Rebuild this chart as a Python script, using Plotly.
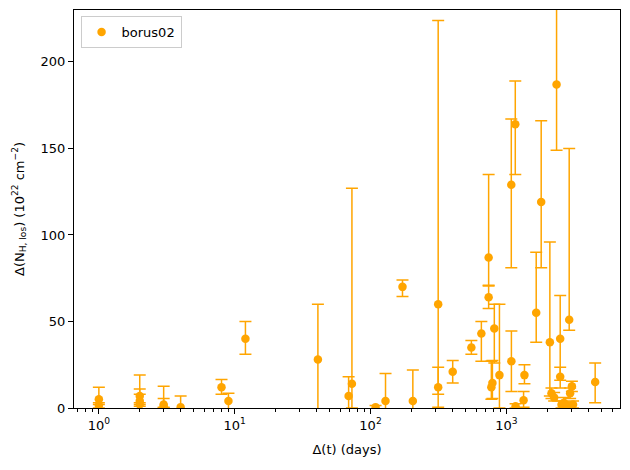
import plotly.graph_objects as go

# delta t (days), delta NH (1e22 cm^-2) with lower / upper errors
days = [1, 1, 2, 2, 2, 3, 3, 4, 8, 9, 12, 41, 69, 73, 109, 129, 172, 205, 315, 315,
        403, 553, 655, 741, 741, 776, 790, 816, 890, 1088, 1090, 1164, 1170, 1340, 1360,
        1660, 1806, 2092, 2150, 2250, 2344, 2493, 2493, 2550, 2650, 2800, 2904, 2950,
        3040, 3100, 4510]
delta_nh = [5, 1.5, 7, 4, 2, 2, 1, 0.5, 12, 4, 40, 28, 7, 14, 0.5, 4, 70, 4, 60, 12,
            21, 35, 43, 87, 64, 12, 14.5, 46, 19, 129, 27, 164, 1, 4.5, 19,
            55, 119, 38, 8.5, 6, 187, 40, 18, 2, 3, 1.5, 51, 8.5,
            12.5, 2, 15]
err_minus = [3, 1.5, 4, 2, 1, 1.5, 1, 1, 4, 4.5, 9, 32, 11, 14, 1, 16, 5.5, 18, 52, 11.5,
             6.5, 4, 16, 16, 6.5, 7, 9, 20, 19, 48, 17.5, 29, 1, 4, 5,
             17, 38, 31, 3, 2, 38, 24, 6.5, 2, 2, 1.5, 6, 3,
             3, 2, 12]
err_plus = [7, 1.5, 12, 7, 6, 10.5, 4.5, 6.5, 4.5, 4.5, 10, 32, 11, 113, 1, 16, 4, 18, 164, 11.5,
            6.5, 4, 7, 48, 6.5, 15, 13, 14, 41, 38, 17.5, 25, 1.5, 5, 6,
            35, 47, 58, 3, 3, 50, 25, 5.5, 2, 3, 2, 99, 3,
            3, 2, 11]

x_tickvals = [1, 10, 100, 1000]
x_ticktext = ["10<sup>0</sup>", "10<sup>1</sup>", "10<sup>2</sup>", "10<sup>3</sup>"]
minor_vals = [m * d for d in [0.1, 1, 10, 100, 1000] for m in range(2, 10)]

fig = go.Figure()
fig.add_trace(go.Scatter(
    x=days, y=delta_nh, mode="markers", name="borus02",
    marker=dict(color="orange", size=8.5),
    error_y=dict(type="data", symmetric=False, array=err_plus, arrayminus=err_minus,
                 color="orange", thickness=1.5, width=6),
))

axis_common = dict(showline=True, linecolor="black", linewidth=1, mirror=True,
                   ticks="outside", ticklen=5, tickcolor="black", showgrid=False,
                   zeroline=False, tickfont=dict(size=13, color="black"))

fig.update_xaxes(type="log", range=[-0.183, 3.837], tickvals=x_tickvals, ticktext=x_ticktext,
                 minor=dict(ticks="outside", ticklen=3, tickcolor="black", tickvals=minor_vals,
                            showgrid=False),
                 title=dict(text="Δ(t) (days)", font=dict(size=13, color="black"), standoff=13),
                 **axis_common)
fig.update_yaxes(range=[0, 230], tickvals=[0, 50, 100, 150, 200],
                 title=dict(text="Δ(N<sub>H, los</sub>) (10<sup>22</sup> cm<sup>−2</sup>)",
                            font=dict(size=13, color="black"), standoff=13),
                 **axis_common)

# page body adds an 8px offset, so the figure is a bit smaller than the window
fig.update_layout(
    width=614, height=454,
    margin=dict(l=66, r=2, t=2, b=54),
    plot_bgcolor="white", paper_bgcolor="white",
    font=dict(family="DejaVu Sans", size=13, color="black"),
    showlegend=True,
    legend=dict(x=0.012, y=0.985, xanchor="left", yanchor="top",
                bordercolor="#cccccc", borderwidth=1, bgcolor="rgba(255,255,255,0.8)",
                font=dict(size=13)),
)

fig.write_html("out.html")
